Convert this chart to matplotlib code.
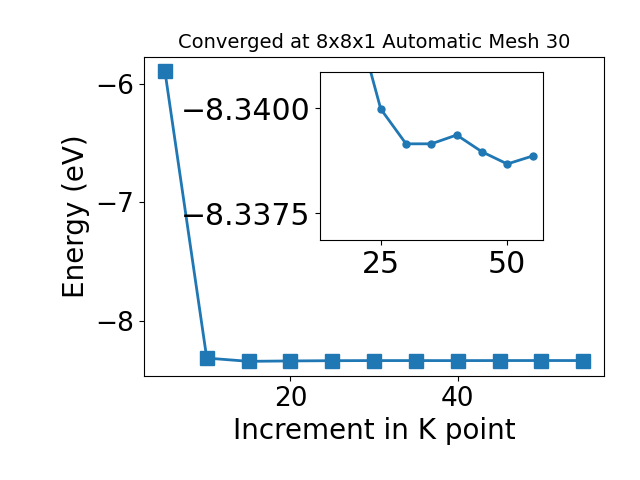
import numpy as np
import matplotlib
matplotlib.use('Agg')
import matplotlib.pyplot as plt

#### data ####
kpoints = [5, 10, 15, 20, 25, 30, 35, 40, 45, 50, 55]
energy = [-5.89, -8.318, -8.3455, -8.3422, -8.33998, -8.33915, -8.33915,
          -8.33936, -8.33896, -8.33867, -8.33886]

#### plot ####
fig = plt.figure(figsize=(6.4, 4.8), dpi=100)
ax = fig.add_axes([0.225, 0.217, 0.719, 0.665])
ax.plot(kpoints, energy, marker='s', markersize=10, linewidth=2, color='#1f77b4')
ax.set_title('Converged at 8x8x1 Automatic Mesh 30', fontsize=14)
ax.set_xlabel('Increment in K point', fontsize=20)
ax.set_ylabel('Energy (eV)', fontsize=20)
ax.set_xticks([20, 40])
ax.set_yticks([-6, -7, -8])
ax.tick_params(labelsize=19)

## inset ##
ins = fig.add_axes([0.5, 0.5, 0.348, 0.35])
ins.plot(kpoints[2:], energy[2:], marker='o', markersize=5, linewidth=2, color='#1f77b4')
ins.set_ylim(-8.33686, -8.34086)
ins.set_yticks([-8.34, -8.3375])
ins.set_yticklabels(['\u22128.3400', '\u22128.3375'])
ins.set_xticks([25, 50])
ins.tick_params(labelsize=21.5)

fig.savefig('out.png', dpi=100)
